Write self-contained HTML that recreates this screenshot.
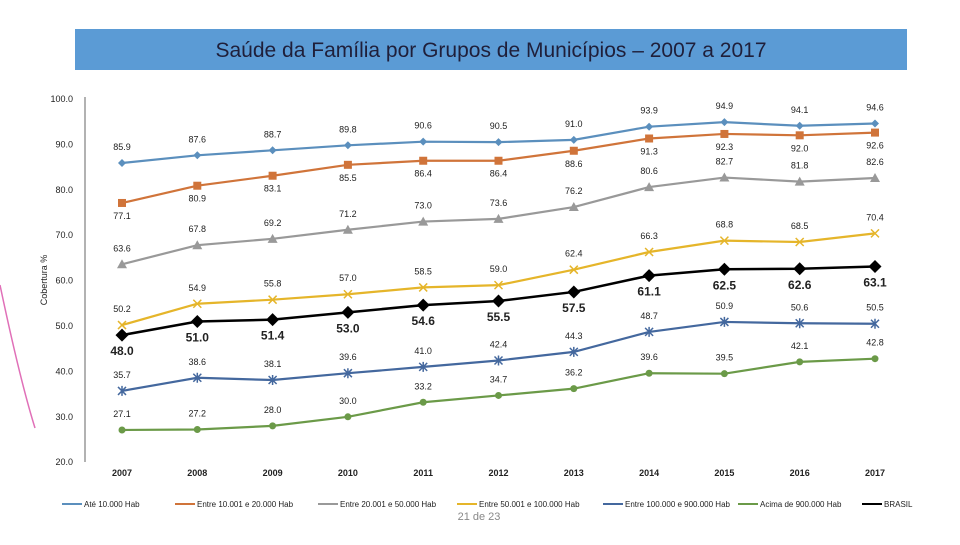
<!DOCTYPE html>
<html><head><meta charset="utf-8"><style>
body{margin:0;background:#fff;font-family:"Liberation Sans",sans-serif}
svg text{font-family:"Liberation Sans",sans-serif}
</style></head><body>
<svg width="960" height="540" viewBox="0 0 960 540">
<rect x="75" y="29" width="832" height="41" fill="#5b9bd5"/>
<text x="491" y="57" text-anchor="middle" font-size="21" fill="#1f1f3a">Saúde da Família por Grupos de Municípios – 2007 a 2017</text>
<path d="M0 285 Q20 380 35 428" stroke="#e070b8" stroke-width="1.5" fill="none"/>
<line x1="85" y1="97" x2="85" y2="462" stroke="#999" stroke-width="1.5"/>
<text transform="translate(47,280) rotate(-90)" text-anchor="middle" font-size="9" fill="#222">Cobertura %</text>
<g id="g"></g>
<text x="479" y="520" text-anchor="middle" font-size="11" fill="#888">21 de 23</text>
</svg>
<script>
const years=["2007","2008","2009","2010","2011","2012","2013","2014","2015","2016","2017"];
const yTicks=[100,90,80,70,60,50,40,30,20];
const seriesNames=["Até 10.000 Hab","Entre 10.001 e 20.000 Hab","Entre  20.001 e 50.000 Hab","Entre 50.001 e 100.000 Hab","Entre 100.000 e 900.000 Hab","Acima de 900.000 Hab","BRASIL"];
const ate10=[85.9,87.6,88.7,89.8,90.6,90.5,91.0,93.9,94.9,94.1,94.6];
const e10a20=[77.1,80.9,83.1,85.5,86.4,86.4,88.6,91.3,92.3,92.0,92.6];
const e20a50=[63.6,67.8,69.2,71.2,73.0,73.6,76.2,80.6,82.7,81.8,82.6];
const e50a100=[50.2,54.9,55.8,57.0,58.5,59.0,62.4,66.3,68.8,68.5,70.4];
const e100a900=[35.7,38.6,38.1,39.6,41.0,42.4,44.3,48.7,50.9,50.6,50.5];
const acima900=[27.1,27.2,28.0,30.0,33.2,34.7,36.2,39.6,39.5,42.1,42.8];
const brasil=[48.0,51.0,51.4,53.0,54.6,55.5,57.5,61.1,62.5,62.6,63.1];
const NS="http://www.w3.org/2000/svg";
const g=document.getElementById('g');
const X=i=>122+i*75.3;
const Y=v=>99+(100-v)*4.54;
function mk(t,a,txt){const e=document.createElementNS(NS,t);for(const k in a)e.setAttribute(k,a[k]);if(txt!==undefined)e.textContent=txt;g.appendChild(e);return e;}
yTicks.forEach(v=>{const t=mk('text',{x:73,y:Y(v)+3,'text-anchor':'end','font-size':9,fill:'#222'},v.toFixed(1));

});
years.forEach((y,i)=>{const t=mk('text',{x:X(i),y:476,'text-anchor':'middle','font-size':9,'font-weight':'bold',fill:'#222'},y);

});
const data=[ate10,e10a20,e20a50,e50a100,e100a900,acima900,brasil];
const colors=["#5b8fbd","#d0743a","#999999","#e5b52a","#44689e","#6b9a48","#000000"];
const marks=["diamond","square","triangle","x","star","circle","bigdiamond"];
const offs=[-13,16,-13,-13,-13,-13,20];
const keys=["ate-10000","entre-10001-20000","entre-20001-50000","entre-50001-100000","entre-100000-900000","acima-900000","brasil"];
function marker(type,x,y,c){let e;
 if(type==="diamond")e=mk('path',{d:`M${x} ${y-4}L${x+4} ${y}L${x} ${y+4}L${x-4} ${y}Z`,fill:c});
 else if(type==="bigdiamond")e=mk('path',{d:`M${x} ${y-6.5}L${x+6.5} ${y}L${x} ${y+6.5}L${x-6.5} ${y}Z`,fill:c});
 else if(type==="square")e=mk('rect',{x:x-4,y:y-4,width:8,height:8,fill:c});
 else if(type==="triangle")e=mk('path',{d:`M${x} ${y-5}L${x+5} ${y+4}L${x-5} ${y+4}Z`,fill:c});
 else if(type==="circle")e=mk('circle',{cx:x,cy:y,r:3.5,fill:c});
 else if(type==="x")e=mk('path',{d:`M${x-4} ${y-4}L${x+4} ${y+4}M${x+4} ${y-4}L${x-4} ${y+4}`,stroke:c,'stroke-width':1.5});
 else e=mk('path',{d:`M${x-4} ${y-4}L${x+4} ${y+4}M${x+4} ${y-4}L${x-4} ${y+4}M${x} ${y-5}L${x} ${y+5}`,stroke:c,'stroke-width':1.5});
 return e;}
data.forEach((arr,s)=>{
 const d=arr.map((v,i)=>(i?'L':'M')+X(i)+' '+Y(v)).join('');
 const p=mk('path',{d:d,stroke:colors[s],'stroke-width':s===6?2.5:2.2,fill:'none'});
 
 
 arr.forEach((v,i)=>{
  const m=marker(marks[s],X(i),Y(v),colors[s]);
  
  
  const big=s===6;
  const t=mk('text',{x:X(i),y:Y(v)+offs[s],'text-anchor':'middle','font-size':big?12:9,'font-weight':big?'bold':'normal',fill:'#222'},v.toFixed(1));
  
  
 });
});
const lx=[62,175,318,457,603,738,862];
seriesNames.forEach((n,s)=>{
 const x=lx[s],y=504;
 const l=mk('line',{x1:x,y1:y,x2:x+20,y2:y,stroke:colors[s],'stroke-width':2});
 
 
 const t=mk('text',{x:x+22,y:y+3,'font-size':8,fill:'#222'},n);
 
 
});
</script>
</body></html>
